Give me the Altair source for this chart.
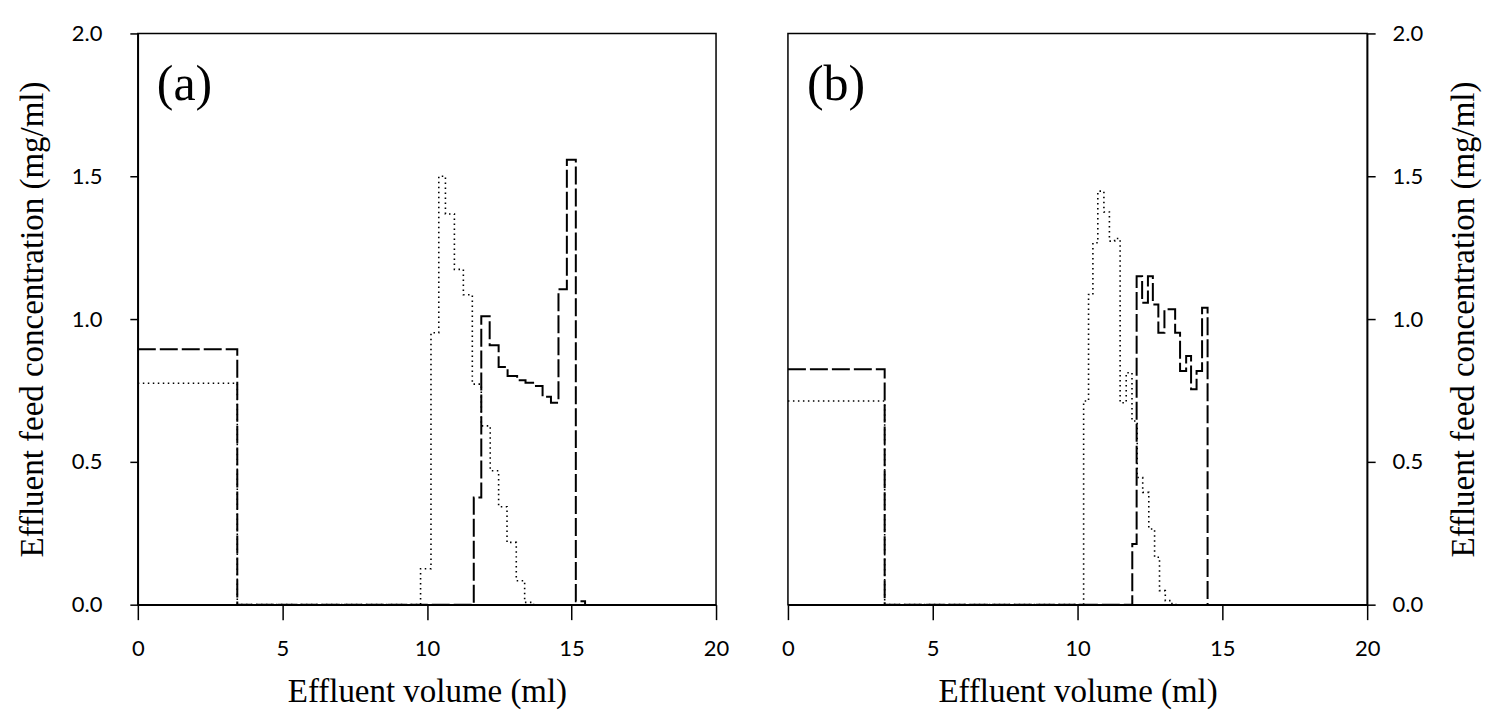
import altair as alt
import pandas as pd

# Panel (a)
a_dot_x = [0, 3.44, 9.78, 10.14, 10.41, 10.64, 10.95, 11.26, 11.57, 11.88, 12.19, 12.48, 12.77, 13.09, 13.38, 13.69]
a_dot_y = [0.775, 0, 0.126, 0.952, 1.50, 1.368, 1.174, 1.085, 0.772, 0.626, 0.469, 0.343, 0.218, 0.084, 0.008, 0]
a_dash_x = [0, 3.44, 11.62, 11.88, 12.17, 12.48, 12.79, 13.12, 13.41, 13.71, 14.00, 14.29, 14.55, 14.84, 15.15, 15.47]
a_dash_y = [0.894, 0, 0.375, 1.010, 0.908, 0.832, 0.801, 0.786, 0.777, 0.766, 0.728, 0.707, 1.104, 1.558, 0.012, 0]

# Panel (b)
b_dot_x = [0, 3.34, 10.21, 10.38, 10.53, 10.70, 10.91, 11.10, 11.28, 11.47, 11.68, 11.88, 12.06, 12.25, 12.46, 12.66, 12.83, 13.03, 13.23, 13.40]
b_dot_y = [0.713, 0, 0.713, 1.086, 1.267, 1.448, 1.375, 1.273, 1.282, 0.707, 0.812, 0.643, 0.445, 0.393, 0.265, 0.166, 0.049, 0.014, 0.004, 0]
b_dash_x = [0, 3.34, 11.89, 12.04, 12.23, 12.43, 12.60, 12.79, 13.00, 13.37, 13.54, 13.75, 13.92, 14.11, 14.30, 14.49]
b_dash_y = [0.824, 0, 0.212, 1.150, 1.057, 1.150, 1.051, 0.952, 1.034, 0.952, 0.818, 0.871, 0.754, 0.818, 1.040, 0]

x_ticks = [0, 5, 10, 15, 20]
y_ticks = [0, 0.5, 1.0, 1.5, 2.0]
x_title = "Effluent volume (ml)"
y_title = "Effluent feed concentration (mg/ml)"

SERIF = "Liberation Serif"
SANS = "Lato"


def panel(dx, dy, sx, sy, label, orient, width):
    xscale = alt.Scale(domain=[0, 20], nice=False)
    yscale = alt.Scale(domain=[0, 2], nice=False)
    xaxis = alt.Axis(values=x_ticks, title=x_title, format="d", tickSize=15,
                     labelPadding=19, titlePadding=16)
    if orient == "left":
        yaxis = alt.Axis(values=y_ticks, title=y_title, format=".1f", orient="left",
                         labelPadding=28, titlePadding=22)
    else:
        yaxis = alt.Axis(values=y_ticks, title=y_title, format=".1f", orient="right",
                         labelPadding=17, titlePadding=25, titleAngle=270,
                         titleBaseline="top")
    dot_df = pd.DataFrame({"v": dx, "c": dy})
    dash_df = pd.DataFrame({"v": sx, "c": sy})
    dot = alt.Chart(dot_df).mark_line(
        interpolate="step-after", color="black", strokeWidth=1.6, strokeDash=[1.5, 3.5]
    ).encode(x=alt.X("v:Q", scale=xscale, axis=xaxis), y=alt.Y("c:Q", scale=yscale, axis=yaxis))
    dash = alt.Chart(dash_df).mark_line(
        interpolate="step-after", color="black", strokeWidth=2, strokeDash=[18, 4]
    ).encode(x=alt.X("v:Q", scale=xscale), y=alt.Y("c:Q", scale=yscale))
    txt = alt.Chart(pd.DataFrame({"t": [label]})).mark_text(
        font=SERIF, fontSize=50, align="left", baseline="alphabetic", color="black"
    ).encode(text="t:N", x=alt.value(19), y=alt.value(67))
    return alt.layer(dot, dash, txt).properties(width=width, height=572)


pa = panel(a_dot_x, a_dot_y, a_dash_x, a_dash_y, "(a)", "left", 579)
pb = panel(b_dot_x, b_dot_y, b_dash_x, b_dash_y, "(b)", "right", 580)

chart = alt.hconcat(pa, pb, spacing=72, bounds="flush").properties(
    padding={"left": 7, "top": 13, "right": 0, "bottom": 0}, background="white"
).configure_view(
    stroke="black", strokeWidth=1.5
).configure_axis(
    grid=False, domainColor="black", domainWidth=1.5, tickColor="black", tickWidth=1.5,
    tickSize=8, labelFont=SANS, labelFontSize=22, labelColor="black",
    titleFont=SERIF, titleFontSize=33, titleFontWeight="normal", titleColor="black",
    labelFlush=False
)

chart.save("out.html", embed_options={"renderer": "svg", "actions": False})
